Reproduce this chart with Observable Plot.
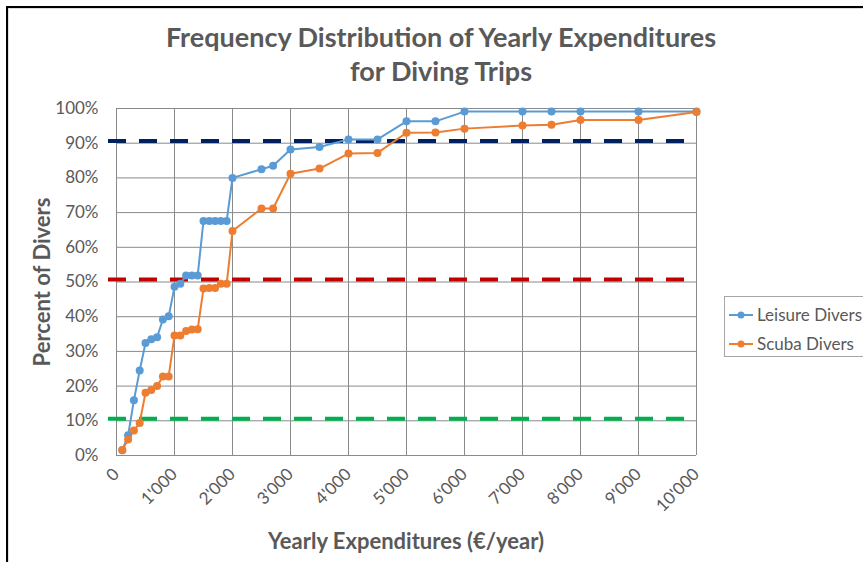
<!DOCTYPE html>
<html>
<head>
<meta charset="utf-8">
<script src="https://cdn.jsdelivr.net/npm/d3@7"></script>
<script src="https://cdn.jsdelivr.net/npm/@observablehq/plot@0.6"></script>
<style>
  html, body { margin: 0; padding: 0; background: #fff; overflow: hidden; }
  #wrap { position: relative; width: 863px; height: 562px; font-family: Lato, "Open Sans", sans-serif; color: #595959; overflow: hidden; }
  #frame { position: absolute; left: 6px; top: 6px; width: 900px; height: 600px; border-left: 2px solid #000; border-top: 2px solid #000; box-shadow: inset 1px 1px 0 #ddd; }
  #title { position: absolute; left: 41px; width: 800px; top: 20px; text-align: center; font-weight: bold; font-size: 27px; line-height: 34px; color: #595959; }
  #chart { position: absolute; left: 0; top: 92px; }
  #ylab { position: absolute; left: 41px; top: 282px; transform: translate(-50%, -50%) rotate(-90deg); font-weight: bold; font-size: 22px; white-space: nowrap; }
  #xlab { position: absolute; left: 406px; top: 540px; transform: translate(-50%, -50%); font-weight: bold; font-size: 22px; white-space: nowrap; }
  #legend { position: absolute; left: 724px; top: 296px; width: 160px; height: 61px; border: 1px solid #a6a6a6; box-sizing: border-box; font-size: 17px; }
  .item { position: absolute; left: 4px; display: flex; align-items: center; white-space: nowrap; }
  .item svg { margin-right: 4px; }
</style>
</head>
<body>
<div id="wrap">
  <div id="frame"></div>
  <div id="title">Frequency Distribution of Yearly Expenditures<br>for Diving Trips</div>
  <div id="chart"></div>
  <div id="ylab">Percent of Divers</div>
  <div id="xlab">Yearly Expenditures (€/year)</div>
  <div id="legend"></div>
</div>
<script>
// ---- data ----
const expenditure = [100,200,300,400,500,600,700,800,900,1000,1100,1200,1300,1400,1500,1600,1700,1800,1900,2000,2500,2700,3000,3500,4000,4500,5000,5500,6000,7000,7500,8000,9000,10000];
const leisureDivers = [1.5,5.8,15.9,24.5,32.4,33.5,34.1,39.2,40.1,48.6,49.5,51.9,51.9,51.9,67.6,67.6,67.6,67.6,67.6,80.0,82.5,83.5,88.2,88.9,91.1,91.1,96.3,96.3,99.1,99.1,99.1,99.1,99.1,99.1];
const scubaDivers = [1.6,4.6,7.2,9.4,18.1,18.9,20.0,22.8,22.8,34.6,34.6,35.9,36.3,36.4,48.1,48.3,48.3,49.5,49.5,64.7,71.2,71.2,81.2,82.7,87.0,87.2,93.0,93.1,94.2,95.1,95.3,96.7,96.7,99.0];
const seriesNames = ["Leisure Divers", "Scuba Divers"];
const seriesColors = ["#5B9BD5", "#ED7D31"];
const refLevels = [10.6, 50.7, 90.6];
const refColors = ["#00B050", "#C00000", "#002060"];
const xTicks = [0,1000,2000,3000,4000,5000,6000,7000,8000,9000,10000];
const yTicks = [0,10,20,30,40,50,60,70,80,90,100];

const rows = [];
[leisureDivers, scubaDivers].forEach((vals, s) => {
  vals.forEach((v, i) => rows.push({series: seriesNames[s], x: expenditure[i], y: v}));
});
const fmtX = d => d3.format(",")(d).replace(/,/g, "'");

const marks = [
  Plot.gridX(xTicks, {stroke: "#8a8a8a", strokeOpacity: 1}),
  Plot.gridY(yTicks, {stroke: "#8a8a8a", strokeOpacity: 1}),
  ...refLevels.map((v, i) => Plot.ruleY([v], {stroke: refColors[i], strokeWidth: 4, strokeDasharray: "18,13", insetLeft: -8})),
  ...seriesNames.map((name, s) => Plot.line(rows.filter(r => r.series === name), {x: "x", y: "y", stroke: seriesColors[s], strokeWidth: 2})),
  ...seriesNames.map((name, s) => Plot.dot(rows.filter(r => r.series === name), {x: "x", y: "y", fill: seriesColors[s], r: 4})),
  Plot.axisX(xTicks, {tickSize: 0, tickPadding: 16, tickRotate: -45, tickFormat: fmtX, label: null, fontSize: 17}),
  Plot.axisY(yTicks, {tickSize: 0, tickPadding: 18, tickFormat: d => d + "%", label: null, fontSize: 17})
];

const chart = Plot.plot({
  width: 863,
  height: 470,
  marginTop: 16,
  marginLeft: 116,
  marginRight: 167,
  marginBottom: 107,
  style: {fontFamily: "Lato, 'Open Sans', sans-serif", color: "#595959", background: "transparent", overflow: "visible"},
  x: {domain: [0, 10000]},
  y: {domain: [0, 100]},
  marks
});
document.getElementById("chart").appendChild(chart);

// legend
const legend = document.getElementById("legend");
seriesNames.forEach((name, s) => {
  const item = document.createElement("div");
  item.className = "item";
  item.style.top = (s === 0 ? 7 : 36) + "px";
  item.innerHTML = `<svg width="24" height="10"><line x1="0" y1="5" x2="24" y2="5" stroke="${seriesColors[s]}" stroke-width="2"/><circle cx="12" cy="5" r="3.5" fill="${seriesColors[s]}"/></svg><span>${name}</span>`;
  legend.appendChild(item);
});
</script>
</body>
</html>
